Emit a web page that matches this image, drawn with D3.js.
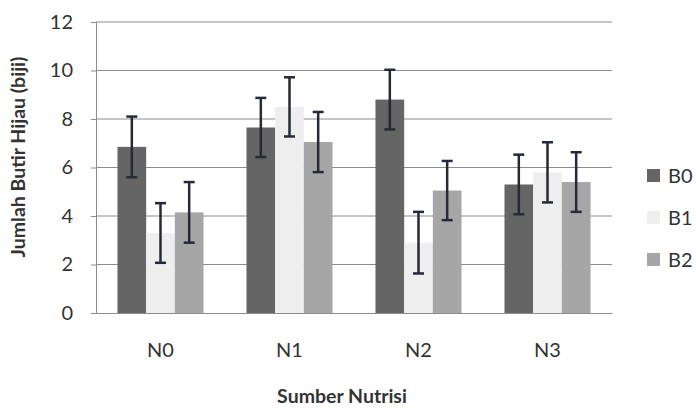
<!DOCTYPE html>
<html>
  <head>
    <meta charset="utf-8">
    <title>Jumlah Butir Hijau</title>
    <script src="https://d3js.org/d3.v7.min.js"></script>
    <style>
      body { margin: 0; background: #fff; }
      text { font-family: Lato, "Open Sans", sans-serif; fill: #333; }
    </style>
  </head>
  <body>
    <script>
        // data
        var categories = ["N0", "N1", "N2", "N3"]
        var seriesNames = ["B0", "B1", "B2"]
        var B0 = [6.85, 7.65, 8.8, 5.3]
        var B1 = [3.3, 8.5, 2.9, 5.8]
        var B2 = [4.15, 7.05, 5.05, 5.4]
        var errB0 = [1.25, 1.22, 1.23, 1.23]
        var errB1 = [1.23, 1.22, 1.27, 1.24]
        var errB2 = [1.25, 1.24, 1.22, 1.23]
        var yTicks = [0, 2, 4, 6, 8, 10, 12]

        var values = [B0, B1, B2]
        var errors = [errB0, errB1, errB2]
        var colors = ["#656565", "#eeeeee", "#a6a6a6"]

        var margin = {top: 22, right: 84, bottom: 95, left: 96}
        var width = 696 - margin.left - margin.right
        var height = 408 - margin.top - margin.bottom

        var svg = d3.select("body").append("svg")
            .attr("width", 696)
            .attr("height", 408)
            .append("g")
            .attr("transform", "translate(" + margin.left + "," + margin.top + ")");

        var x = d3.scaleBand()
            .domain(categories)
            .range([0, width])
            .paddingInner(0.333)
            .paddingOuter(0.1665);

        var xs = d3.scaleBand()
            .domain(seriesNames)
            .range([0, x.bandwidth()]);

        var y = d3.scaleLinear()
            .domain([0, 12])
            .range([height, 0]);

        // gridlines
        svg.append("g")
          .selectAll("line")
          .data(yTicks.slice(1))
          .enter()
          .append("line")
            .attr("x1", 0)
            .attr("x2", width)
            .attr("y1", function(d) { return y(d); })
            .attr("y2", function(d) { return y(d); })
            .attr("stroke", "#8c8c8c")
            .attr("stroke-width", 1);

        // y axis
        var yAxis = svg.append("g")
          .call(d3.axisLeft(y).tickValues(yTicks).tickSize(5).tickPadding(18));
        yAxis.select(".domain").attr("stroke", "#8c8c8c");
        yAxis.selectAll(".tick line").attr("stroke", "#8c8c8c");
        yAxis.selectAll("text")
          .style("font-size", "20px")
          .attr("fill", "#333");

        // bars
        var rows = []
        categories.forEach(function(c, i) {
          seriesNames.forEach(function(s, j) {
            rows.push({cat: c, ser: s, v: values[j][i], e: errors[j][i], col: colors[j]});
          });
        });

        svg.append("g")
          .selectAll("rect")
          .data(rows)
          .enter()
          .append("rect")
            .attr("x", function(d) { return x(d.cat) + xs(d.ser); })
            .attr("y", function(d) { return y(d.v); })
            .attr("width", xs.bandwidth())
            .attr("height", function(d) { return height - y(d.v); })
            .attr("fill", function(d) { return d.col; });

        // error bars
        var eb = svg.append("g")
          .selectAll("g")
          .data(rows)
          .enter()
          .append("g")
            .attr("stroke", "#262a38")
            .attr("stroke-width", 2.5);
        eb.append("line")
            .attr("x1", function(d) { return x(d.cat) + xs(d.ser) + xs.bandwidth()/2; })
            .attr("x2", function(d) { return x(d.cat) + xs(d.ser) + xs.bandwidth()/2; })
            .attr("y1", function(d) { return y(d.v + d.e); })
            .attr("y2", function(d) { return y(d.v - d.e); });
        eb.append("line")
            .attr("x1", function(d) { return x(d.cat) + xs(d.ser) + xs.bandwidth()/2 - 5.5; })
            .attr("x2", function(d) { return x(d.cat) + xs(d.ser) + xs.bandwidth()/2 + 5.5; })
            .attr("y1", function(d) { return y(d.v + d.e); })
            .attr("y2", function(d) { return y(d.v + d.e); });
        eb.append("line")
            .attr("x1", function(d) { return x(d.cat) + xs(d.ser) + xs.bandwidth()/2 - 5.5; })
            .attr("x2", function(d) { return x(d.cat) + xs(d.ser) + xs.bandwidth()/2 + 5.5; })
            .attr("y1", function(d) { return y(d.v - d.e); })
            .attr("y2", function(d) { return y(d.v - d.e); });

        // x axis
        var xAxis = svg.append("g")
          .attr("transform", "translate(0," + height + ")")
          .call(d3.axisBottom(x).tickSize(0).tickPadding(30));
        xAxis.select(".domain").attr("stroke", "#8c8c8c");
        xAxis.selectAll("text")
          .style("font-size", "20px")
          .attr("fill", "#333");

        // axis titles
        svg.append("text")
            .attr("text-anchor", "middle")
            .attr("x", 246)
            .attr("y", height + 90)
            .style("font-size", "19.5px")
            .style("font-weight", "bold")
            .text("Sumber Nutrisi");

        svg.append("text")
            .attr("text-anchor", "middle")
            .attr("transform", "translate(" + (-71) + "," + 135 + ") rotate(-90)")
            .style("font-size", "19.5px")
            .style("font-weight", "bold")
            .text("Jumlah Butir Hijau (biji)");

        // legend
        var legend = svg.append("g")
          .selectAll("g")
          .data(seriesNames)
          .enter()
          .append("g")
            .attr("transform", function(d, i) { return "translate(" + (width + 35) + "," + (154 + i * 42) + ")"; });
        legend.append("rect")
            .attr("x", 0)
            .attr("y", -7)
            .attr("width", 13)
            .attr("height", 13)
            .attr("fill", function(d, i) { return colors[i]; });
        legend.append("text")
            .attr("x", 21)
            .attr("y", 0)
            .attr("dy", "0.35em")
            .style("font-size", "20px")
            .text(function(d) { return d; });
    </script>
  </body>
</html>
